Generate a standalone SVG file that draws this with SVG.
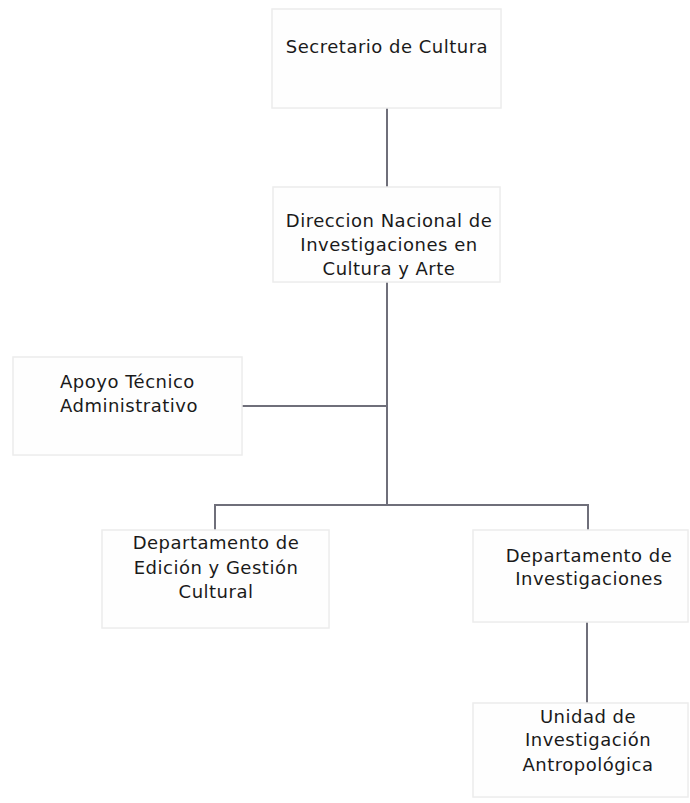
<svg xmlns="http://www.w3.org/2000/svg" width="690" height="803" viewBox="0 0 690 803">
<style>
.box{fill:#fefefe;stroke:#ececec;stroke-width:1.5}
.t{font-family:"DejaVu Sans",Verdana,sans-serif;font-size:18px;letter-spacing:0.5px;fill:#1a1a1a;text-anchor:middle}
.ts{text-anchor:start}
.c{stroke:#6f6f7a;stroke-width:2;fill:none}
</style>
<rect width="690" height="803" fill="#ffffff"/>
<g id="connectors">
<line class="c" x1="387" y1="108" x2="387" y2="187"/>
<line class="c" x1="387" y1="282" x2="387" y2="506"/>
<line class="c" x1="242" y1="406" x2="387" y2="406"/>
<polyline class="c" points="215,530 215,505 588,505 588,530"/>
<line class="c" x1="587" y1="622" x2="587" y2="703"/>
</g>
<g id="secretario">
<rect class="box" x="272" y="9" width="229" height="99"/>
<text class="t" x="387" y="53">Secretario de Cultura</text>
</g>
<g id="direccion">
<rect class="box" x="273" y="187" width="227" height="95"/>
<text class="t" x="389" y="227">Direccion Nacional de</text>
<text class="t" x="389" y="251">Investigaciones en</text>
<text class="t" x="389" y="275">Cultura y Arte</text>
</g>
<g id="apoyo">
<rect class="box" x="13" y="357" width="229" height="98"/>
<text class="t ts" x="60" y="388">Apoyo Técnico</text>
<text class="t ts" x="60" y="412">Administrativo</text>
</g>
<g id="edicion">
<rect class="box" x="102" y="530" width="227" height="98"/>
<text class="t" x="216" y="549">Departamento de</text>
<text class="t" x="216" y="574">Edición y Gestión</text>
<text class="t" x="216" y="598">Cultural</text>
</g>
<g id="investigaciones">
<rect class="box" x="473" y="530" width="215" height="92"/>
<text class="t" x="589" y="562">Departamento de</text>
<text class="t" x="589" y="585">Investigaciones</text>
</g>
<g id="unidad">
<rect class="box" x="473" y="703" width="215" height="94"/>
<text class="t" x="588" y="723">Unidad de</text>
<text class="t" x="588" y="746">Investigación</text>
<text class="t" x="588" y="771">Antropológica</text>
</g>
</svg>
